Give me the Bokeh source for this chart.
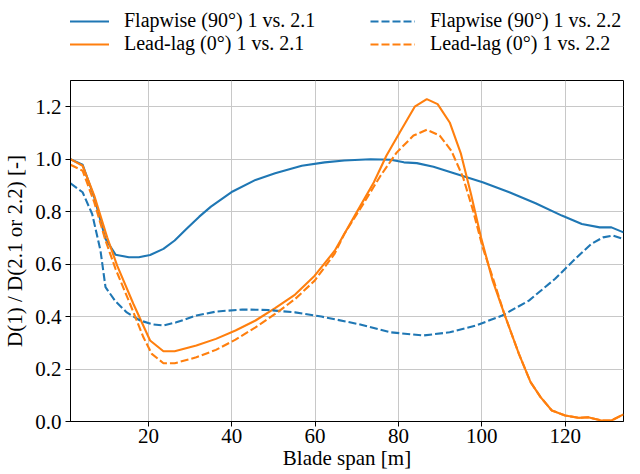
from bokeh.plotting import figure
from bokeh.layouts import column
from bokeh.models import Range1d, FixedTicker, PrintfTickFormatter, Legend, LegendItem
from bokeh.embed import file_html
from bokeh.resources import INLINE

# Flapwise (90°) 1 vs. 2.1
span_flap21 = [1.3, 4.2, 7.0, 9.7, 12.1, 15.3, 17.7, 20.4, 23.6, 26.3, 29.1, 32.2, 35.0, 40.2,
               45.7, 50.4, 56.8, 62.3, 67.0, 73.3, 78.1, 81.3, 84.4, 88.4, 93.9, 100.2, 106.6,
               112.9, 119.2, 124.0, 128.3, 131.1, 134.0]
flap21 = [1.0, 0.979, 0.854, 0.696, 0.636, 0.626, 0.626, 0.635, 0.658, 0.690, 0.734, 0.781,
          0.819, 0.877, 0.921, 0.946, 0.975, 0.988, 0.995, 1.0, 0.998, 0.988, 0.985, 0.971,
          0.944, 0.912, 0.874, 0.832, 0.785, 0.753, 0.740, 0.740, 0.721]

# Flapwise (90°) 1 vs. 2.2
span_flap22 = [1.3, 4.2, 6.5, 8.5, 9.7, 12.1, 14.8, 18.0, 21.2, 23.6, 26.7, 31.5, 36.2, 42.5,
               48.8, 55.2, 61.5, 70.2, 78.1, 86.0, 92.3, 98.6, 104.9, 111.3, 117.6, 122.4,
               126.3, 129.1, 131.5, 134.0]
flap22 = [0.908, 0.874, 0.791, 0.651, 0.512, 0.458, 0.416, 0.385, 0.370, 0.366, 0.378, 0.404,
          0.419, 0.427, 0.425, 0.416, 0.400, 0.372, 0.340, 0.328, 0.340, 0.366, 0.404, 0.461,
          0.544, 0.620, 0.677, 0.702, 0.709, 0.696]

# Lead-lag (0°) 1 vs. 2.1
span_lead21 = [1.3, 4.2, 7.0, 10.1, 12.5, 16.4, 20.4, 23.6, 26.3, 31.5, 36.2, 40.9, 45.7, 50.4,
               55.2, 59.9, 64.7, 70.2, 74.1, 77.1, 80.3, 83.9, 86.8, 89.4, 92.3, 95.0, 97.4,
               99.8, 102.6, 105.4, 108.9, 111.7, 114.1, 116.8, 120.0, 123.2, 125.5, 128.7,
               131.1, 134.0]
lead21 = [1.0, 0.975, 0.861, 0.702, 0.594, 0.448, 0.309, 0.268, 0.268, 0.290, 0.315, 0.347,
          0.385, 0.432, 0.484, 0.556, 0.651, 0.804, 0.912, 1.013, 1.102, 1.200, 1.229, 1.210,
          1.140, 1.020, 0.867, 0.702, 0.537, 0.410, 0.258, 0.150, 0.093, 0.042, 0.023, 0.014,
          0.016, 0.004, 0.004, 0.027]

# Lead-lag (0°) 1 vs. 2.2
span_lead22 = [1.3, 4.2, 7.0, 9.7, 12.1, 15.6, 18.8, 20.8, 23.6, 26.3, 31.5, 36.2, 40.9, 45.7,
               50.4, 55.2, 59.9, 64.7, 67.0, 71.8, 75.7, 79.6, 83.6, 86.8, 89.9, 92.7, 95.5,
               97.9, 100.2, 102.6, 105.4, 108.9, 111.7, 114.1, 116.8, 120.0, 123.2, 125.5,
               128.7, 131.1, 134.0]
lead22 = [0.979, 0.956, 0.836, 0.690, 0.582, 0.448, 0.321, 0.258, 0.222, 0.222, 0.245, 0.273,
          0.312, 0.359, 0.410, 0.467, 0.537, 0.640, 0.715, 0.836, 0.937, 1.026, 1.090, 1.112,
          1.090, 1.032, 0.931, 0.804, 0.664, 0.550, 0.410, 0.258, 0.150, 0.093, 0.042, 0.023,
          0.014, 0.016, 0.004, 0.004, 0.027]

x_ticks = [20, 40, 60, 80, 100, 120]
y_ticks = [0.0, 0.2, 0.4, 0.6, 0.8, 1.0, 1.2]

labels = ["Flapwise (90°) 1 vs. 2.1", "Lead-lag (0°) 1 vs. 2.1",
          "Flapwise (90°) 1 vs. 2.2", "Lead-lag (0°) 1 vs. 2.2"]

BLUE = "#1f77b4"
ORANGE = "#ff7f0e"
FONT = "Liberation Serif"
FS = "21px"
LEG_FS = "20px"
DASH = "8 3"
LW = 2.1

# ---------------- main plot ----------------
p = figure(width=624, height=402, output_backend="svg", toolbar_location=None,
           x_range=Range1d(1.3, 134), y_range=Range1d(0, 1.3),
           min_border_left=65, min_border_right=1, min_border_top=8, min_border_bottom=53)

p.line(span_flap21, flap21, line_color=BLUE, line_width=LW)
p.line(span_lead21, lead21, line_color=ORANGE, line_width=LW)
p.line(span_flap22, flap22, line_color=BLUE, line_width=LW, line_dash=DASH)
p.line(span_lead22, lead22, line_color=ORANGE, line_width=LW, line_dash=DASH)

p.xaxis.ticker = FixedTicker(ticks=x_ticks)
p.yaxis.ticker = FixedTicker(ticks=y_ticks)
p.yaxis.formatter = PrintfTickFormatter(format="%.1f")
p.xaxis.axis_label = "Blade span [m]"
p.yaxis.axis_label = "D(1) / D(2.1 or 2.2) [-]"

for ax in (p.xaxis, p.yaxis):
    ax.axis_label_text_font = FONT
    ax.axis_label_text_font_size = FS
    ax.axis_label_text_font_style = "normal"
    ax.axis_label_text_color = "black"
    ax.major_label_text_font = FONT
    ax.major_label_text_font_size = FS
    ax.major_label_text_color = "black"
    ax.axis_line_color = "black"
    ax.major_tick_line_color = "black"
    ax.major_tick_out = 5
    ax.major_tick_in = 0
    ax.minor_tick_line_color = None

p.xaxis.major_label_standoff = 2
p.xaxis.axis_label_standoff = 0
p.yaxis.major_label_standoff = 4
p.yaxis.axis_label_standoff = 5

p.xgrid.ticker = FixedTicker(ticks=x_ticks)
p.ygrid.ticker = FixedTicker(ticks=y_ticks)
p.grid.grid_line_color = "#c8c8c8"
p.grid.grid_line_width = 1

p.outline_line_color = "black"
p.outline_line_width = 1
p.outline_line_alpha = 1
p.background_fill_color = "white"
p.border_fill_color = "white"

# ---------------- legend strip (lines drawn outside its visible range) ----------------
pl = figure(width=624, height=72, output_backend="svg", toolbar_location=None,
            x_range=Range1d(-2, -1), y_range=Range1d(0, 1),
            x_axis_location=None, y_axis_location=None,
            min_border=0, min_border_left=0, min_border_right=0,
            min_border_top=0, min_border_bottom=0)
pl.grid.visible = False
pl.outline_line_color = None
pl.background_fill_color = "white"
pl.border_fill_color = "white"

k1 = pl.line(span_flap21, flap21, line_color=BLUE, line_width=LW)
k2 = pl.line(span_lead21, lead21, line_color=ORANGE, line_width=LW)
k3 = pl.line(span_flap22, flap22, line_color=BLUE, line_width=LW, line_dash=DASH)
k4 = pl.line(span_lead22, lead22, line_color=ORANGE, line_width=LW, line_dash=DASH)

def make_legend(items, x):
    return Legend(items=items, location=(x, 17), orientation="vertical",
                  border_line_alpha=0, background_fill_alpha=0,
                  label_text_font=FONT, label_text_font_size=LEG_FS, label_text_color="black",
                  glyph_width=45, glyph_height=20, label_height=20, label_standoff=15,
                  spacing=0, padding=0, margin=0)

pl.add_layout(make_legend([LegendItem(label=labels[0], renderers=[k1]),
                           LegendItem(label=labels[1], renderers=[k2])], -6))
pl.add_layout(make_legend([LegendItem(label=labels[2], renderers=[k3]),
                           LegendItem(label=labels[3], renderers=[k4])], 300))

layout = column(pl, p, spacing=0)
open("out.html", "w").write(file_html(layout, INLINE))
